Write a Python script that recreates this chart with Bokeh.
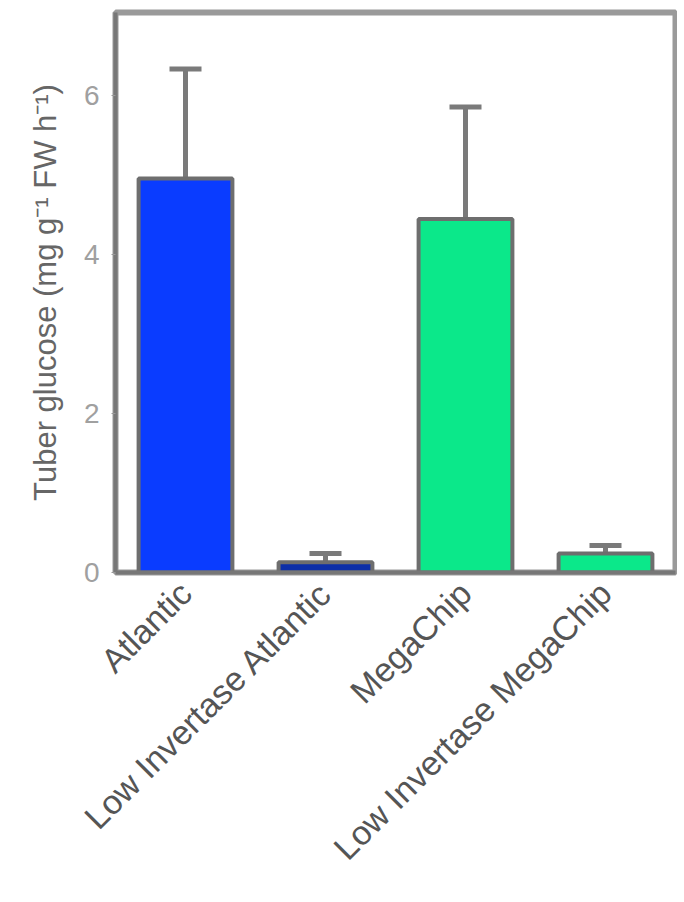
from bokeh.plotting import figure
from bokeh.models import ColumnDataSource, Whisker, TeeHead, FactorRange, Range1d, FixedTicker
from bokeh.embed import file_html
from bokeh.resources import INLINE
import math

categories = ["Atlantic", "Low Invertase Atlantic", "MegaChip", "Low Invertase MegaChip"]
values = [4.96, 0.13, 4.45, 0.24]
errors = [1.38, 0.11, 1.41, 0.10]
bar_colors = ["#0a3cff", "#0d2fa8", "#0be88a", "#0be88a"]
y_ticks = [0, 2, 4, 6]

src = ColumnDataSource(dict(
    x=categories,
    top=values,
    upper=[v + e for v, e in zip(values, errors)],
    color=bar_colors,
))

p = figure(width=677, height=886, x_range=FactorRange(*categories), y_range=Range1d(0, 7.05),
           output_backend="svg", toolbar_location=None,
           min_border_left=115, min_border_right=2, min_border_top=12, min_border_bottom=314)

p.vbar(x="x", top="top", width=0.67, source=src, fill_color="color",
       line_color="#6e6e6e", line_width=4)

w = Whisker(base="x", upper="upper", lower="top", source=src,
            line_color="#7a7a7a", line_width=5,
            upper_head=TeeHead(size=32, line_color="#7a7a7a", line_width=5),
            lower_head=None)
p.add_layout(w)

p.xgrid.visible = False
p.ygrid.visible = False
p.outline_line_color = "#9a9a9a"
p.outline_line_width = 6

p.yaxis.ticker = FixedTicker(ticks=y_ticks)
p.yaxis.minor_tick_line_color = None
p.yaxis.major_tick_line_color = "#999999"
p.yaxis.major_tick_out = 4
p.yaxis.major_tick_in = 0
p.yaxis.axis_line_color = "#777777"
p.yaxis.axis_line_width = 4
p.yaxis.major_label_text_font = "Liberation Sans"
p.yaxis.major_label_text_font_size = "28px"
p.yaxis.major_label_text_color = "#a0a0a0"
p.yaxis.major_label_standoff = 12
p.yaxis.axis_label = "Tuber glucose (mg g⁻¹ FW h⁻¹)"
p.yaxis.axis_label_text_font = "Liberation Sans"
p.yaxis.axis_label_text_font_size = "31px"
p.yaxis.axis_label_text_font_style = "normal"
p.yaxis.axis_label_text_color = "#666666"
p.yaxis.axis_label_standoff = 18

p.xaxis.axis_line_color = "#777777"
p.xaxis.axis_line_width = 4
p.xaxis.major_tick_line_color = None
p.xaxis.minor_tick_line_color = None
p.xaxis.major_label_orientation = math.pi / 4
p.xaxis.major_label_text_font = "Liberation Sans"
p.xaxis.major_label_text_font_size = "34px"
p.xaxis.major_label_text_color = "#555555"
p.xaxis.major_label_standoff = 9

open("out.html", "w").write(file_html(p, INLINE))
